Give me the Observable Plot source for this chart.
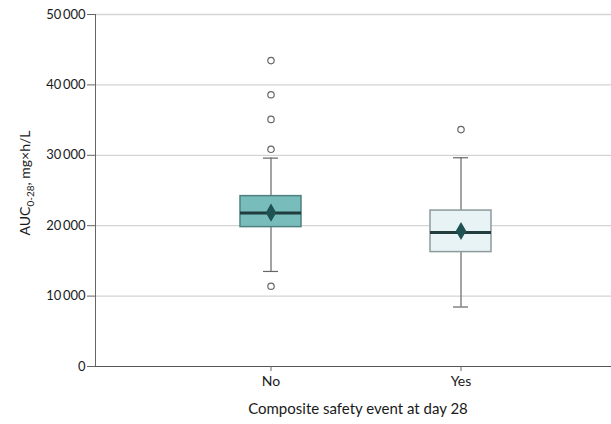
<!DOCTYPE html>
<html><head><meta charset="utf-8">
<script src="https://cdn.jsdelivr.net/npm/d3@7"></script>
<script src="https://cdn.jsdelivr.net/npm/@observablehq/plot@0.6"></script>
<style>body{margin:0;background:#fff;} svg{font-family:Lato,"Open Sans",sans-serif;}</style>
</head><body><div id="chart"></div>
<script>
const groups = ["No", "Yes"];
const q1 = [19800, 16250];
const median = [21800, 19050];
const q3 = [24200, 22150];
const whiskerLow = [13500, 8450];
const whiskerHigh = [29600, 29650];
const means = [21850, 19250];
const outlierGroup = ["No", "No", "No", "No", "No", "Yes"];
const outlierValue = [43450, 38600, 35100, 30850, 11400, 33650];
const yTicks = [0, 10000, 20000, 30000, 40000, 50000];
const fills = ["#78bcbc", "#e7f3f5"];
const strokes = ["#4f8080", "#8c9a9c"];

const boxes = groups.map((g, i) => ({group: g, q1: q1[i], median: median[i], q3: q3[i], lo: whiskerLow[i], hi: whiskerHigh[i], mean: means[i], fill: fills[i], stroke: strokes[i]}));
const outliers = outlierGroup.map((g, i) => ({group: g, value: outlierValue[i]}));
const fmt = d => d3.format(",")(d).replace(/,/g, "\u2009");

const plot = Plot.plot({
  width: 611, height: 424,
  marginLeft: 95, marginRight: 0, marginTop: 14, marginBottom: 58,
  style: {fontFamily: "Lato, 'Open Sans', sans-serif", fontSize: "13px", color: "#1a1a1a"},
  x: {type: "band", domain: groups, range: [175, 555], paddingInner: 0.68, paddingOuter: 0.34, label: null},
  y: {domain: [0, 50000], label: null},
  marks: [
    Plot.gridY(yTicks.filter(d => d > 0), {stroke: "#d4d4d4", strokeOpacity: 1, strokeWidth: 1.3}),
    Plot.frame({anchor: "left", stroke: "#666"}),
    Plot.ruleY([0], {stroke: "#555"}),
    Plot.axisY({ticks: yTicks, tickFormat: fmt, tickSize: 8, tickPadding: 2, stroke: "#666", fontSize: 13, label: null}),
    Plot.axisX({tickSize: 5, tickPadding: 5, stroke: "#666", fontSize: 14, label: null}),
    Plot.ruleX(boxes, {x: "group", y1: "lo", y2: "q1", stroke: "#666", strokeWidth: 1.2}),
    Plot.ruleX(boxes, {x: "group", y1: "q3", y2: "hi", stroke: "#666", strokeWidth: 1.2}),
    Plot.tickY(boxes, {x: "group", y: "lo", stroke: "#666", strokeWidth: 1.2, insetLeft: 23, insetRight: 23}),
    Plot.tickY(boxes, {x: "group", y: "hi", stroke: "#666", strokeWidth: 1.2, insetLeft: 23, insetRight: 23}),
    Plot.barY(boxes, {x: "group", y1: "q1", y2: "q3", fill: "fill", stroke: "stroke", strokeWidth: 1.5}),
    Plot.tickY(boxes, {x: "group", y: "median", stroke: "#213c3c", strokeWidth: 3}),
    Plot.dot(boxes, {x: "group", y: "mean", symbol: "diamond", r: 5.5, fill: "#1f5252", stroke: "none"}),
    Plot.dot(outliers, {x: "group", y: "value", r: 3.2, fill: "white", stroke: "#666", strokeWidth: 1.2})
  ]
});

const svg = d3.select(plot);
svg.append("text")
  .attr("transform", "translate(30,183) rotate(-90)")
  .attr("text-anchor", "middle")
  .attr("font-size", 14)
  .attr("fill", "#1a1a1a")
  .call(t => {
    t.append("tspan").text("AUC");
    t.append("tspan").attr("font-size", 10).attr("dy", 4).text("0-28");
    t.append("tspan").attr("dy", -4).text(", mg\u00d7h/L");
  });
svg.append("text")
  .attr("x", 358).attr("y", 414)
  .attr("text-anchor", "middle")
  .attr("font-size", 15)
  .attr("fill", "#1a1a1a")
  .text("Composite safety event at day 28");

document.getElementById("chart").append(plot);
</script>
</body></html>
